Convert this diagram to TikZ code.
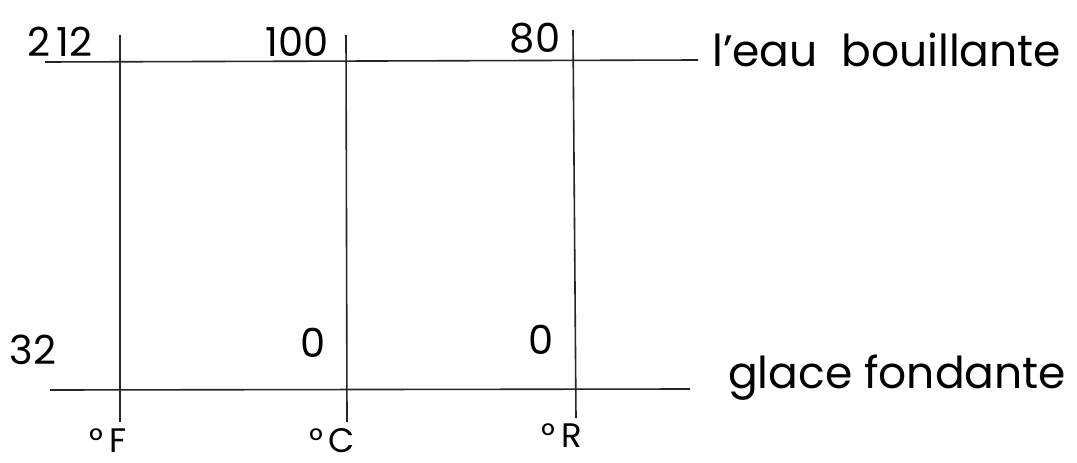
\documentclass[tikz,border=0pt]{standalone}
\usepackage{fontspec}
\setmainfont{Poppins}
\begin{document}
\begin{tikzpicture}[x=1pt,y=-1pt,
  ln/.style={line width=1.6pt,draw=black!85},
  num/.style={font=\fontsize{40}{42}\selectfont,inner sep=0pt},
  unit/.style={font=\fontsize{34}{36}\selectfont,inner sep=0pt,anchor=base},
  lab/.style={font=\fontsize{44}{46}\selectfont,inner sep=0pt,anchor=west}]
\useasboundingbox[fill=white] (0,0) rectangle (1077,463);
% horizontal lines
\coordinate (tl) at (45,62);
\coordinate (tr) at (698,60);
\coordinate (bl) at (50,390);
\coordinate (br) at (690,389);
\draw[ln] (tl) -- (tr);
\draw[ln] (bl) -- (br);
% vertical scales
\coordinate (Ft) at (120,35); \coordinate (Fb) at (120,422);
\coordinate (Ct) at (346,35); \coordinate (Cb) at (347,422);
\coordinate (Rt) at (573,30); \coordinate (Rb) at (576,418);
\draw[ln] (Ft) -- (Fb);
\draw[ln] (Ct) -- (Cb);
\draw[ln] (Rt) -- (Rb);
% numbers
\node[num] (n212) at (60,42) {2\,12};
\node[num] (n100) at (297,42) {100};
\node[num] (n80) at (535,38) {80};
\node[num] (n32) at (33,350) {32};
\node[num] (c0) at (313,343) {0};
\node[num] (r0) at (541,340) {0};
% units
\node[unit] (uF) at (108,452) {°\,F};
\node[unit] (uC) at (332,452) {°\,C};
\node[unit] (uR) at (562,447) {°\,R};
% labels
\node[lab] (eau) at (712,50) {l’eau\ \ bouillante};
\node[lab] (glace) at (728,378) {glace\ fondante};
\end{tikzpicture}
\end{document}
